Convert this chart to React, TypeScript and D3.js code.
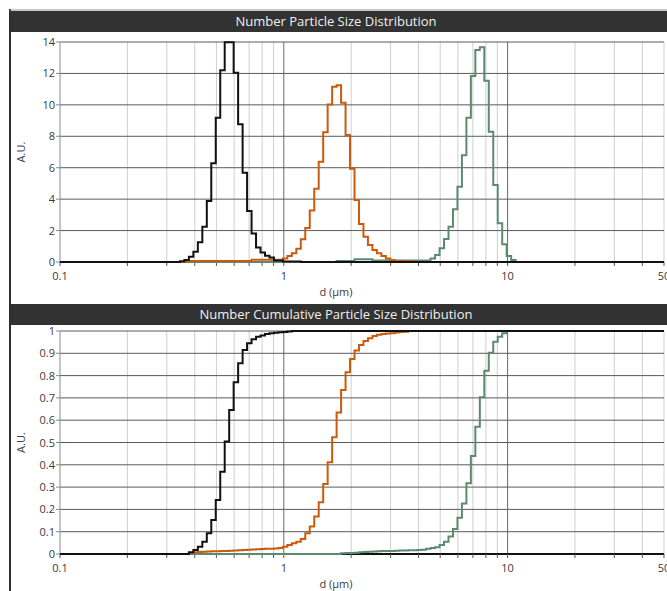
import React from "react";
import * as d3 from "d3";

// ---------- data (log-spaced size bins, 50 bins per decade) ----------
const BINS_PER_DECADE = 50;
const BIN_OFFSET = -0.2;

// Number distribution (A.U.), one value per bin, starting at bin index *Start
const blackDistStart = -23;
const blackDist = [0.04, 0.12, 0.34, 0.66, 1.25, 2.25, 3.88, 6.28, 9.18, 12.2, 13.98, 13.98, 12.05, 8.76, 5.68, 3.25, 1.82, 0.93, 0.6, 0.4, 0.28, 0.1, 0.1, 0.03, 0.03, 0.03, 0.03];

const orangeDistStart = -22;
const orangeDist = [0.07, 0.07, 0.07, 0.07, 0.07, 0.07, 0.07, 0.07, 0.07, 0.07, 0.07, 0.07, 0.07, 0.07, 0.07,
  0.15, 0.15, 0.15, 0.15, 0.15, 0.15, 0.15,
  0.23, 0.38, 0.55, 0.85, 1.44, 2.16, 3.27, 4.66, 6.38, 8.25, 10.03, 11.16, 11.24, 10.14, 8.08, 5.94, 3.95, 2.42, 1.61, 1.08, 0.76, 0.55, 0.38, 0.23, 0.13, 0.06, 0.06, 0.06, 0.05];

const greenDistStart = 12;
const greenDist = [0.06, 0.06, 0.06, 0.06, 0.18, 0.18, 0.18, 0.18,
  0.1, 0.1, 0.1, 0.1, 0.1, 0.1, 0.1, 0.1, 0.1, 0.1, 0.1, 0.1, 0.1,
  0.23, 0.45, 0.87, 1.46, 2.25, 3.35, 4.79, 6.8, 9.18, 11.84, 13.49, 13.66, 11.54, 8.29, 4.9, 2.46, 1.13, 0.38, 0.12];

// Number cumulative distribution
const blackCumStart = -21;
const blackCum = [0.008, 0.018, 0.033, 0.055, 0.093, 0.152, 0.242, 0.369, 0.504, 0.646, 0.77, 0.855, 0.915, 0.945, 0.963, 0.974, 0.98, 0.987, 0.99, 0.992, 0.994, 0.996, 0.998, 1.0];

const orangeCumStart = -21;
const orangeCum = [0.004, 0.008, 0.009, 0.01, 0.011, 0.012, 0.012, 0.013, 0.014, 0.015, 0.016, 0.017, 0.018, 0.019, 0.02, 0.021, 0.022, 0.023, 0.024, 0.025, 0.027,
  0.033, 0.04, 0.048, 0.055, 0.067, 0.093, 0.123, 0.168, 0.232, 0.314, 0.411, 0.523, 0.635, 0.735, 0.815, 0.874, 0.912, 0.937, 0.955, 0.967, 0.978, 0.983, 0.987, 0.989, 0.99, 0.993, 0.995, 0.997, 1.0];

const greenCumStart = 13;
const greenCum = [0.003, 0.004, 0.005, 0.006, 0.008, 0.009, 0.01, 0.011, 0.012, 0.013, 0.014, 0.014, 0.015, 0.016, 0.016, 0.017, 0.017, 0.018, 0.019, 0.024, 0.027,
  0.03, 0.04, 0.055, 0.078, 0.112, 0.163, 0.227, 0.317, 0.439, 0.571, 0.703, 0.822, 0.903, 0.952, 0.974, 0.99, 1.0];

const xDomain = [0.1, 50];
const xMajorTicks = [0.1, 1, 10, 50];
const xMajorLabels = ["0.1", "1", "10", "50"];
const xMinorTicks = [0.2, 0.3, 0.4, 0.5, 0.6, 0.7, 0.8, 0.9, 2, 3, 4, 5, 6, 7, 8, 9, 20, 30, 40];
const xDecadeLines = [1, 10];

const distTicks = [0, 2, 4, 6, 8, 10, 12, 14];
const cumTicks = [0, 0.1, 0.2, 0.3, 0.4, 0.5, 0.6, 0.7, 0.8, 0.9, 1];

const titles = ["Number Particle Size Distribution", "Number Cumulative Particle Size Distribution"];
const xTitle = "d (µm)";
const yTitle = "A.U.";

const COLORS = { black: "#111111", orange: "#cc5a0c", green: "#5d8a6f" };

// ---------- layout ----------
const W = 667;
const H = 591;
const PLOT_L = 60;
const PLOT_R = 664;
const FONT = "'Open Sans', 'DejaVu Sans', sans-serif";

const edge = (k: number) => Math.pow(10, (k + BIN_OFFSET) / BINS_PER_DECADE);

function stepPoints(start: number, values: number[], endVal: number): [number, number][] {
  const pts: [number, number][] = [[xDomain[0], 0]];
  values.forEach((v, i) => pts.push([edge(start + i), v]));
  pts.push([edge(start + values.length), endVal]);
  pts.push([xDomain[1], endVal]);
  return pts;
}

type Panel = {
  title: string;
  barTop: number;
  plotTop: number;
  plotBottom: number;
  yMax: number;
  ticks: number[];
  series: { pts: [number, number][]; color: string }[];
};

function PanelView({ p }: { p: Panel }) {
  const x = d3.scaleLog().domain(xDomain).range([PLOT_L, PLOT_R]);
  const y = d3.scaleLinear().domain([0, p.yMax]).range([p.plotBottom, p.plotTop]);
  const line = d3
    .line<[number, number]>()
    .x((d) => x(d[0]))
    .y((d) => y(d[1]))
    .curve(d3.curveStepAfter);
  const midY = (p.plotTop + p.plotBottom) / 2;
  return (
    <g>
      <rect x={11} y={p.barTop} width={W - 11} height={21} fill="#323232" />
      <text x={336} y={p.barTop + 15} textAnchor="middle" fill="#f0f0f0" fontSize={13} fontFamily={FONT}>
        {p.title}
      </text>
      {/* vertical grid */}
      {xMinorTicks.concat([50]).map((t) => (
        <line key={"vg" + t} x1={x(t)} x2={x(t)} y1={p.plotTop} y2={p.plotBottom} stroke="#cfcfcf" strokeWidth={1} />
      ))}
      {xDecadeLines.map((t) => (
        <line key={"vd" + t} x1={x(t)} x2={x(t)} y1={p.plotTop} y2={p.plotBottom} stroke="#6a6a6a" strokeWidth={1} />
      ))}
      {/* horizontal grid */}
      {p.ticks.filter((t) => t > 0).map((t) => (
        <line key={"hg" + t} x1={PLOT_L} x2={PLOT_R} y1={y(t)} y2={y(t)} stroke="#5a5a5a" strokeWidth={1} />
      ))}
      {/* y axis */}
      <line x1={PLOT_L} x2={PLOT_L} y1={p.plotTop} y2={p.plotBottom} stroke="#8a8a8a" strokeWidth={1} />
      {p.ticks.map((t) => (
        <g key={"yt" + t}>
          <line x1={PLOT_L - 4} x2={PLOT_L} y1={y(t)} y2={y(t)} stroke="#8a8a8a" />
          <text x={PLOT_L - 5} y={y(t) + 4} textAnchor="end" fontSize={11} fill="#3a3a3a" fontFamily={FONT}>
            {String(t)}
          </text>
        </g>
      ))}
      <text
        transform={`translate(25,${midY}) rotate(-90)`}
        textAnchor="middle"
        fontSize={11}
        fill="#3d4658"
        fontFamily={FONT}
      >
        {yTitle}
      </text>
      {/* x axis */}
      <line x1={PLOT_L} x2={PLOT_R} y1={p.plotBottom} y2={p.plotBottom} stroke="#111" strokeWidth={2} />
      {xMinorTicks.concat(xMajorTicks).map((t) => (
        <line key={"xt" + t} x1={x(t)} x2={x(t)} y1={p.plotBottom} y2={p.plotBottom + 4} stroke="#555" strokeWidth={1} />
      ))}
      {xMajorTicks.map((t, i) => (
        <text key={"xl" + t} x={x(t)} y={p.plotBottom + 18} textAnchor="middle" fontSize={11} fill="#3a3a3a" fontFamily={FONT}>
          {xMajorLabels[i]}
        </text>
      ))}
      <text x={336} y={p.plotBottom + 34} textAnchor="middle" fontSize={11} fill="#3a3a3a" fontFamily={FONT}>
        {xTitle}
      </text>
      {/* data */}
      {p.series.map((s, i) => (
        <path key={"s" + i} d={line(s.pts) || ""} fill="none" stroke={s.color} strokeWidth={2} strokeLinejoin="miter" />
      ))}
    </g>
  );
}

export default function App() {
  const panels: Panel[] = [
    {
      title: titles[0],
      barTop: 11,
      plotTop: 42,
      plotBottom: 262,
      yMax: 14,
      ticks: distTicks,
      series: [
        { pts: stepPoints(greenDistStart, greenDist, 0), color: COLORS.green },
        { pts: stepPoints(orangeDistStart, orangeDist, 0), color: COLORS.orange },
        { pts: stepPoints(blackDistStart, blackDist, 0), color: COLORS.black },
      ],
    },
    {
      title: titles[1],
      barTop: 304,
      plotTop: 331,
      plotBottom: 554,
      yMax: 1,
      ticks: cumTicks,
      series: [
        { pts: stepPoints(greenCumStart, greenCum, 1), color: COLORS.green },
        { pts: stepPoints(orangeCumStart, orangeCum, 1), color: COLORS.orange },
        { pts: stepPoints(blackCumStart, blackCum, 1), color: COLORS.black },
      ],
    },
  ];
  return (
    <svg
      width={W}
      height={H}
      viewBox={`0 0 ${W} ${H}`}
      style={{ position: "absolute", left: 0, top: 0, background: "#fff" }}
    >
      <rect x={0} y={0} width={W} height={H} fill="#fff" />
      <line x1={10} x2={10} y1={9} y2={H} stroke="#2e2e2e" strokeWidth={2} />
      <line x1={10} x2={W} y1={10} y2={10} stroke="#8c8ca0" strokeWidth={1} />
      {panels.map((p, i) => (
        <PanelView key={i} p={p} />
      ))}
    </svg>
  );
}
